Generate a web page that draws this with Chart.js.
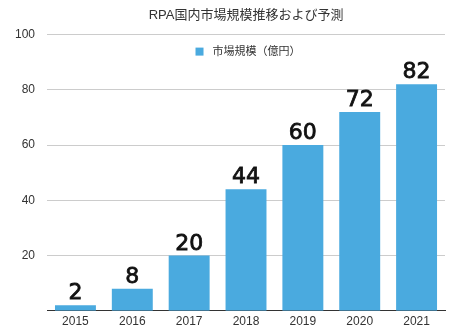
<!DOCTYPE html>
<html>
<head>
<meta charset="utf-8">
<script src="https://cdn.jsdelivr.net/npm/chart.js@4/dist/chart.umd.min.js"></script>
<style>
  html, body { margin: 0; padding: 0; background: #fff; }
  #wrap { width: 461px; height: 330px; }
</style>
</head>
<body>
<div id="wrap"><canvas id="rpaChart" width="461" height="330"></canvas></div>
<script>
const years = ['2015', '2016', '2017', '2018', '2019', '2020', '2021'];
const marketSize = [2, 8, 20, 44, 60, 72, 82];
const yTicks = [20, 40, 60, 80, 100];
const seriesName = '市場規模（億円）';

const FONT = '"Liberation Sans", "Noto Sans CJK JP", sans-serif';
const BAR_COLOR = '#4aaadf';

// value labels drawn above each bar
const barValueLabels = {
  id: 'barValueLabels',
  afterDatasetsDraw(chart) {
    const ctx = chart.ctx;
    const meta = chart.getDatasetMeta(0);
    ctx.save();
    ctx.font = '22px "DejaVu Sans", sans-serif';
    ctx.fillStyle = '#111';
    ctx.strokeStyle = '#111';
    ctx.lineWidth = 0.8;
    ctx.textAlign = 'center';
    ctx.textBaseline = 'alphabetic';
    meta.data.forEach((bar, i) => {
      const label = String(marketSize[i]);
      ctx.fillText(label, bar.x, bar.y - 6);
      ctx.strokeText(label, bar.x, bar.y - 6);
    });
    ctx.restore();
  }
};

// legend sits inside the plot, just under the top gridline
const innerLegend = {
  id: 'innerLegend',
  afterDraw(chart) {
    const ctx = chart.ctx;
    const area = chart.chartArea;
    ctx.save();
    ctx.font = '11px ' + FONT;
    const textW = ctx.measureText(seriesName).width;
    const box = 8, gap = 9;
    const total = box + gap + textW;
    const x0 = (area.left + area.right) / 2 - total / 2 + 2;
    const cy = area.top + 17;
    ctx.fillStyle = BAR_COLOR;
    ctx.fillRect(x0, cy - box / 2, box, box);
    ctx.fillStyle = '#333';
    ctx.textBaseline = 'middle';
    ctx.fillText(seriesName, x0 + box + gap, cy);
    ctx.restore();
  }
};

new Chart(document.getElementById('rpaChart'), {
  type: 'bar',
  data: {
    labels: years,
    datasets: [{
      label: seriesName,
      data: marketSize,
      backgroundColor: BAR_COLOR,
      borderWidth: 0
    }]
  },
  options: {
    responsive: false,
    animation: false,
    layout: { padding: { left: 3, right: 16, top: 0, bottom: -4 } },
    plugins: {
      title: {
        display: true,
        text: 'RPA国内市場規模推移および予測',
        fullSize: false,
        color: '#333',
        font: { family: FONT, size: 13, weight: 'normal' },
        padding: { top: 8, bottom: 11 }
      },
      legend: { display: false },
      tooltip: { enabled: false }
    },
    scales: {
      x: {
        grid: { display: false, drawTicks: false },
        border: { color: '#333', width: 1 },
        ticks: { color: '#333', font: { family: FONT, size: 12 }, padding: 4 }
      },
      y: {
        min: 0,
        max: 100,
        afterBuildTicks(axis) {
          axis.ticks = yTicks.map(v => ({ value: v }));
        },
        grid: { color: '#cccccc', drawTicks: false },
        border: { display: false },
        ticks: { color: '#333', font: { family: FONT, size: 12 }, padding: 12 }
      }
    }
  },
  plugins: [barValueLabels, innerLegend]
});
</script>
</body>
</html>
